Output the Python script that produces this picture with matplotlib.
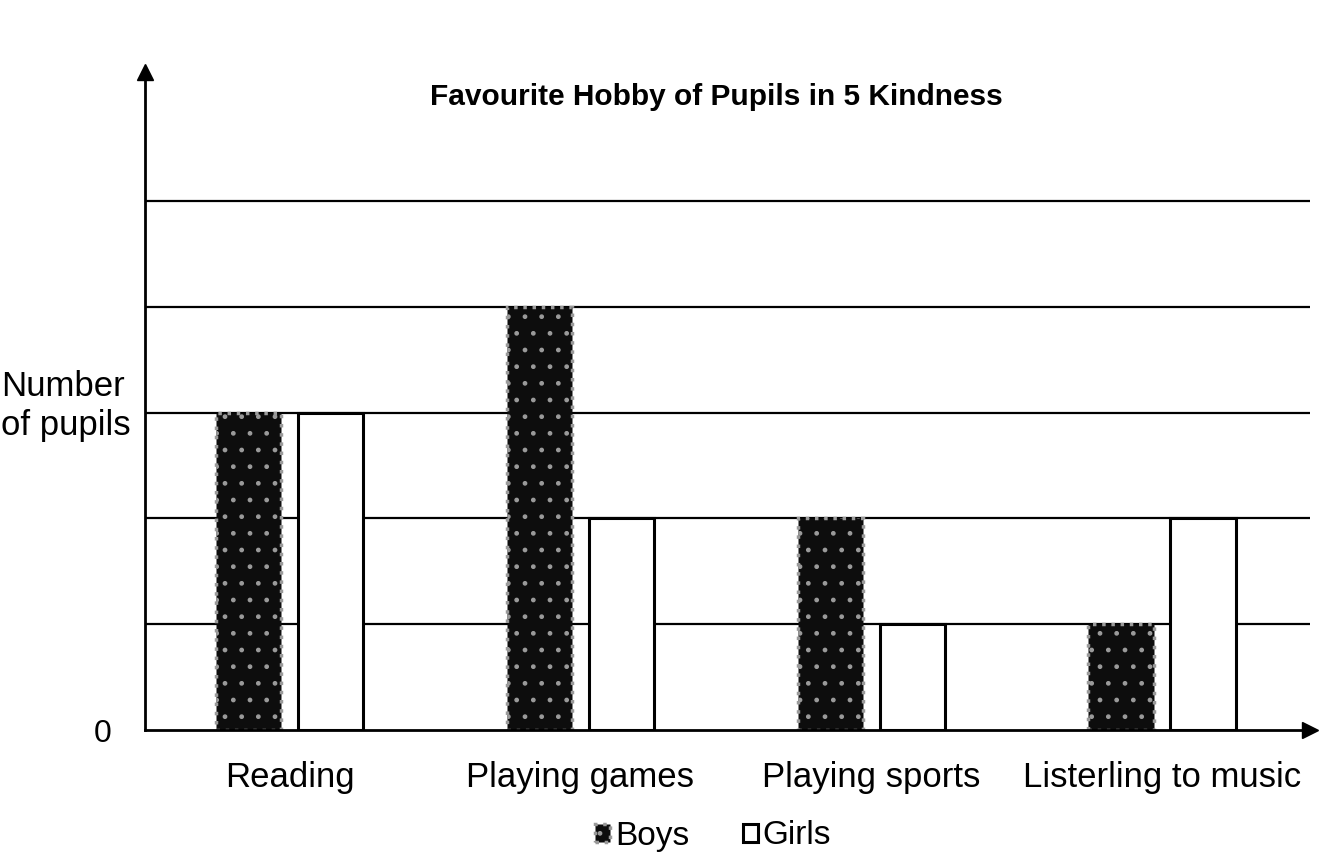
import numpy as np
import matplotlib
matplotlib.use('Agg')
import matplotlib.pyplot as plt

hobbies = ['Reading', 'Playing games', 'Playing sports', 'Listerling to music']
boys = [3, 4, 2, 1]
girls = [3, 2, 1, 2]
grid_levels = [1, 2, 3, 4, 5]

plt.rcParams['font.family'] = ['Liberation Sans', 'DejaVu Sans']
plt.rcParams['hatch.color'] = '#6e6e6e'
plt.rcParams['hatch.linewidth'] = 1.0

fig = plt.figure(figsize=(13.23, 8.6), dpi=100, facecolor='white')
ax = fig.add_axes([145 / 1323, 130 / 860, 1165 / 1323, 658 / 860])

x = np.arange(len(hobbies))
w = 0.224
off = 0.141

# gridlines under the bars
for lvl in grid_levels:
    ax.axhline(lvl, color='black', lw=1.6, zorder=1)

b1 = ax.bar(x - off, boys, w, color='#0d0d0d', edgecolor='#9a9a9a',
            hatch='.', linewidth=2.5, linestyle=':', zorder=3, label='Boys')
b2 = ax.bar(x + off, girls, w, color='white', edgecolor='black',
            linewidth=2.2, zorder=3, label='Girls')

ax.set_xlim(-0.497, 3.509)
ax.set_ylim(0, 6.22)

for s in ['top', 'right']:
    ax.spines[s].set_visible(False)
ax.spines['left'].set_linewidth(2)
ax.spines['bottom'].set_linewidth(2)
ax.spines['left'].set_zorder(4)
ax.spines['bottom'].set_zorder(4)

# arrow heads at the axis ends
ax.plot(0, 1, marker='^', color='black', markersize=11, transform=ax.transAxes,
        clip_on=False, zorder=5)
ax.plot(1, 0, marker='>', color='black', markersize=11, transform=ax.transAxes,
        clip_on=False, zorder=5)

ax.set_yticks([0])
ax.set_yticklabels(['0'], fontsize=23)
ax.tick_params(axis='y', length=0, pad=24)
ax.set_xticks(x)
ax.set_xticklabels(hobbies, fontsize=25)
ax.tick_params(axis='x', length=0, pad=22)

fig.text(716 / 1323, (860 - 97) / 860, 'Favourite Hobby of Pupils in 5 Kindness',
         ha='center', va='center', fontsize=21.5, fontweight='bold')
fig.text(1 / 1323, (860 - 406) / 860, 'Number\nof pupils', ha='left',
         va='center', multialignment='left', fontsize=25, linespacing=1.2)

fig.legend(handles=[b1, b2], loc='center', bbox_to_anchor=(713 / 1323, (860 - 836) / 860),
           ncol=2, frameon=False, fontsize=24, handlelength=0.45, handleheight=0.45,
           handletextpad=0.15, columnspacing=1.6, borderpad=0.1)

fig.savefig('out.png', dpi=100, facecolor='white')
